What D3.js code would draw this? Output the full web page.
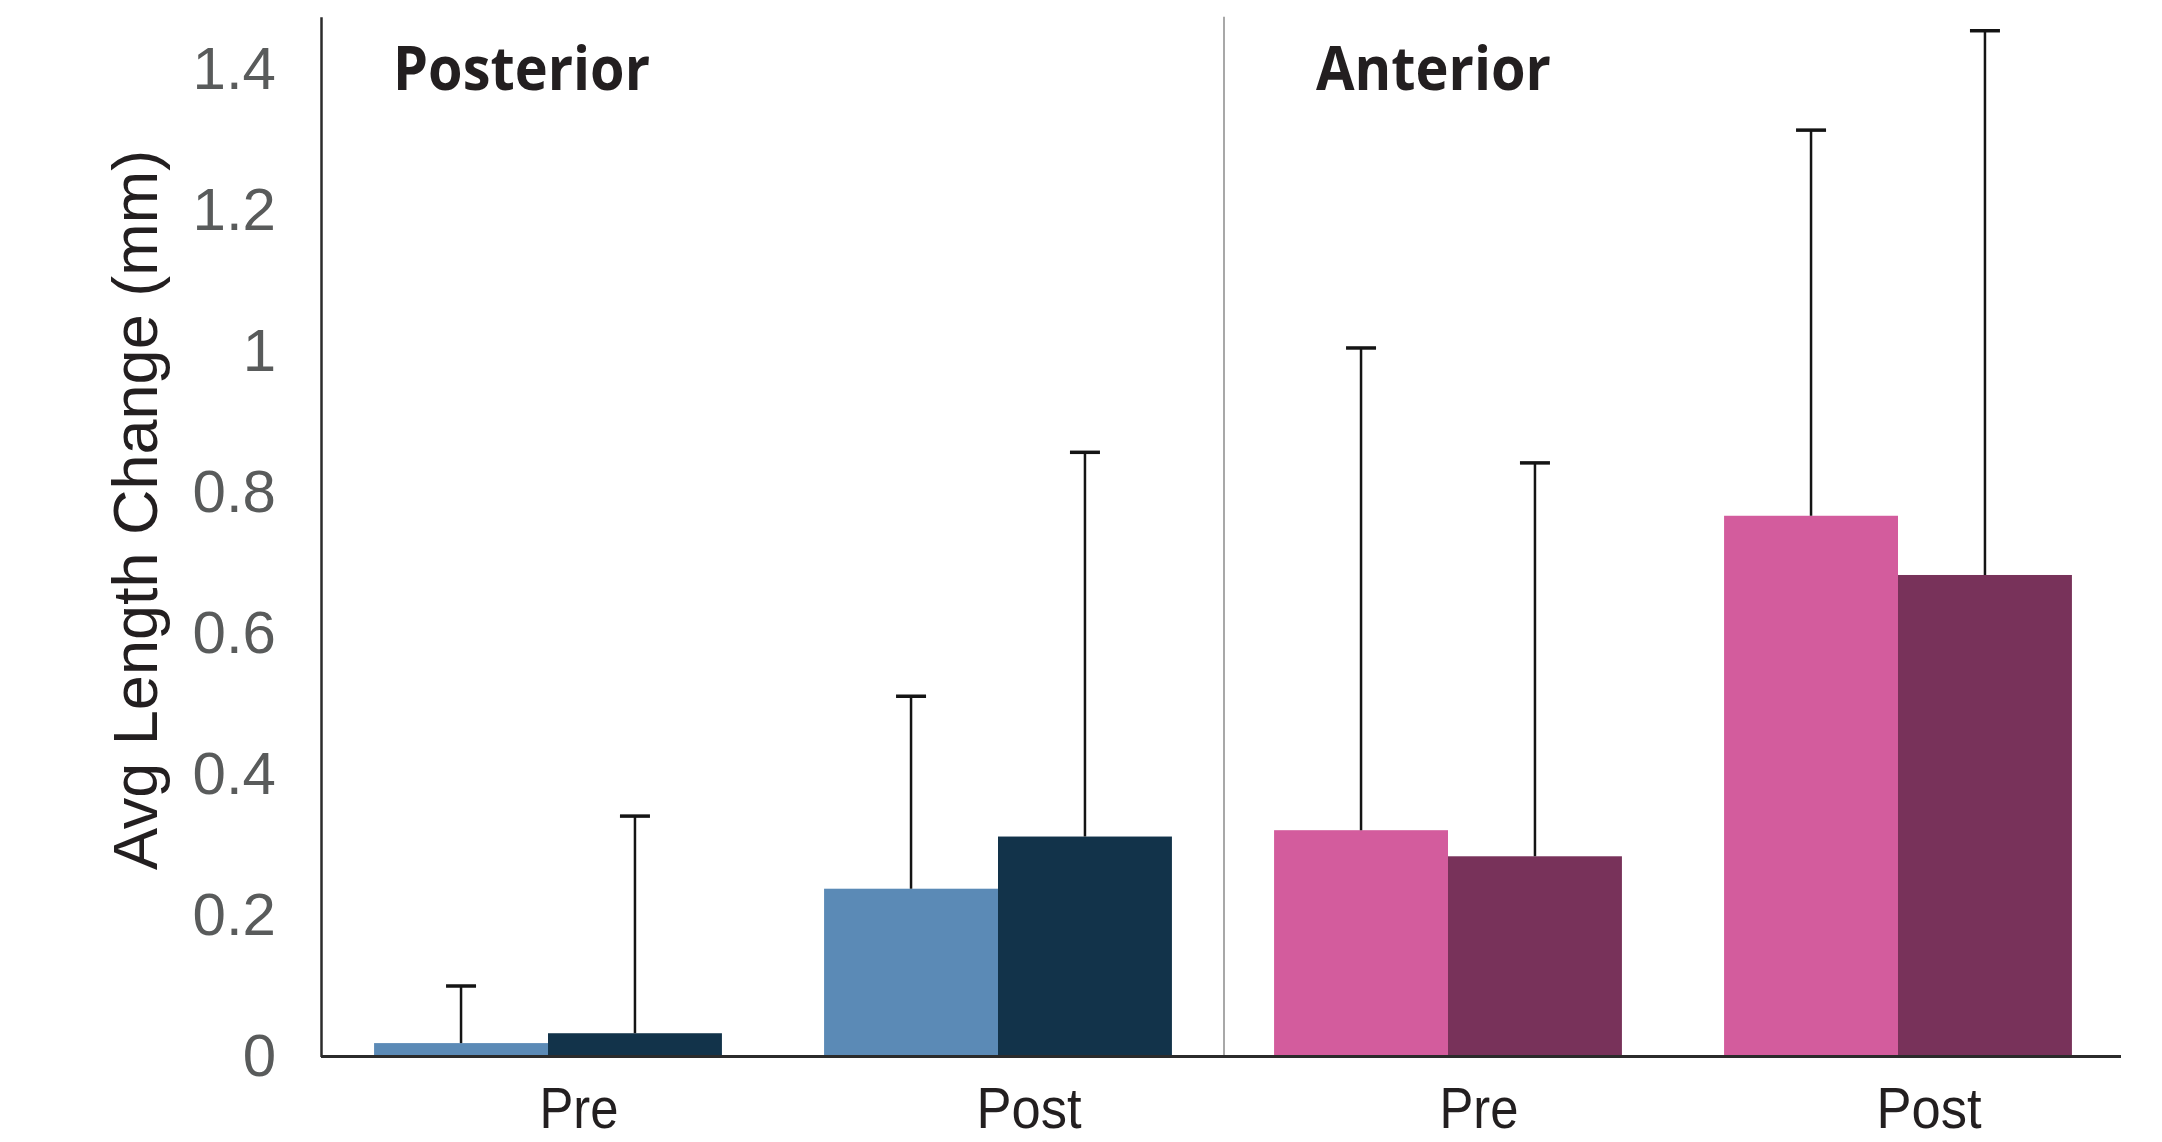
<!DOCTYPE html>
<html>
<head>
<meta charset="utf-8">
<script src="https://cdn.jsdelivr.net/npm/d3@7"></script>
<style>
  html, body { margin: 0; padding: 0; background: #fff; }
  svg { display: block; }
</style>
</head>
<body>
<svg id="chart" width="2162" height="1142"></svg>
<script>
// chart data
var regions = ["Posterior", "Anterior"];
var phases = ["Pre", "Post"];
var groups = ["Posterior Pre", "Posterior Post", "Anterior Pre", "Anterior Post"];
var groupRegion = ["Posterior", "Posterior", "Anterior", "Anterior"];
var groupPhase = ["Pre", "Post", "Pre", "Post"];

// two bars per group: first (lighter) and second (darker)
var meanA = [0.019, 0.238, 0.321, 0.767];
var meanB = [0.033, 0.312, 0.284, 0.683];
var sdA = [0.081, 0.273, 0.684, 0.547];
var sdB = [0.308, 0.545, 0.558, 0.772];

var yTicks = [0, 0.2, 0.4, 0.6, 0.8, 1, 1.2, 1.4];

var colorsA = {Posterior: "#5b8ab6", Anterior: "#d35c9d"};
var colorsB = {Posterior: "#12334a", Anterior: "#78325a"};

// layout
var svg = d3.select("#chart"),
    axisLeft = 321,
    axisRight = 2121,
    baseY = 1056.5;

var x = d3.scaleBand()
    .domain(groups)
    .range([axisLeft + 2, axisRight + 2])
    .paddingInner(0.227)
    .paddingOuter(0.1135);

var xInner = d3.scaleBand()
    .domain([0, 1])
    .range([0, x.bandwidth()]);

var y = d3.scaleLinear()
    .domain([0, 1.475])
    .range([baseY, baseY - 1.475 * 705]);

// build bar records from the arrays
var bars = [];
groups.forEach(function(g, i) {
  bars.push({group: g, k: 0, value: meanA[i], sd: sdA[i], color: colorsA[groupRegion[i]]});
  bars.push({group: g, k: 1, value: meanB[i], sd: sdB[i], color: colorsB[groupRegion[i]]});
});

// region divider
var divX = (x(groups[1]) + x.bandwidth() + x(groups[2])) / 2 + 1;
svg.append("line")
    .attr("x1", divX).attr("x2", divX)
    .attr("y1", y.range()[1]).attr("y2", baseY)
    .attr("stroke", "#a8a8a8")
    .attr("stroke-width", 2);

// bars
svg.append("g")
    .selectAll("rect")
    .data(bars)
    .enter().append("rect")
      .attr("x", function(d) { return x(d.group) + xInner(d.k); })
      .attr("y", function(d) { return y(d.value); })
      .attr("width", xInner.bandwidth())
      .attr("height", function(d) { return baseY - y(d.value); })
      .attr("fill", function(d) { return d.color; });

// error bars (upper only)
var err = svg.append("g")
    .selectAll("g")
    .data(bars)
    .enter().append("g")
      .attr("transform", function(d) {
        return "translate(" + (x(d.group) + xInner(d.k) + xInner.bandwidth() / 2) + ",0)";
      });

err.append("line")
    .attr("x1", 0).attr("x2", 0)
    .attr("y1", function(d) { return y(d.value); })
    .attr("y2", function(d) { return y(d.value + d.sd); })
    .attr("stroke", "#141414")
    .attr("stroke-width", 2.5);

err.append("line")
    .attr("x1", -15).attr("x2", 15)
    .attr("y1", function(d) { return y(d.value + d.sd); })
    .attr("y2", function(d) { return y(d.value + d.sd); })
    .attr("stroke", "#141414")
    .attr("stroke-width", 3.5);

// y axis
var yAxis = svg.append("g")
    .attr("transform", "translate(" + axisLeft + ",0)")
    .call(d3.axisLeft(y)
      .tickValues(yTicks)
      .tickSize(0)
      .tickPadding(45)
      .tickFormat(function(d) { return String(+d.toFixed(1)); }));

yAxis.select(".domain")
    .attr("stroke", "#2b2b2b")
    .attr("stroke-width", 2.5);

yAxis.selectAll("text")
    .attr("font-family", "'Liberation Sans', Arial, sans-serif")
    .attr("font-size", 60)
    .attr("fill", "#595b5b");

// x axis
var xAxis = svg.append("g")
    .attr("transform", "translate(0," + baseY + ")")
    .call(d3.axisBottom(x)
      .tickSize(0)
      .tickFormat(function(d, i) { return groupPhase[i]; }));

xAxis.select(".domain")
    .attr("d", "M" + axisLeft + ",0H" + axisRight)
    .attr("stroke", "#2b2b2b")
    .attr("stroke-width", 3);

xAxis.selectAll("text")
    .attr("font-family", "'Liberation Sans', Arial, sans-serif")
    .attr("font-size", 57)
    .attr("fill", "#231f20")
    .attr("dy", null)
    .attr("y", 71)
    .attr("x", 31)
    .attr("textLength", function(d, i) { return groupPhase[i] === "Pre" ? 79 : 105; })
    .attr("lengthAdjust", "spacingAndGlyphs");

// region titles
var titleWidth = {Posterior: 257, Anterior: 235};
svg.selectAll(".region-title")
    .data(regions)
    .enter().append("text")
      .attr("class", "region-title")
      .attr("x", function(d, i) { return i === 0 ? 393 : 1316; })
      .attr("y", 90)
      .attr("font-family", "'Open Sans', sans-serif")
      .attr("font-weight", "bold")
      .attr("font-size", 60)
      .attr("fill", "#231f20")
      .attr("textLength", function(d) { return titleWidth[d]; })
      .attr("lengthAdjust", "spacingAndGlyphs")
      .text(function(d) { return d; });

// y axis title
svg.append("text")
    .attr("transform", "translate(157,510) rotate(-90)")
    .attr("text-anchor", "middle")
    .attr("font-family", "'Liberation Sans', Arial, sans-serif")
    .attr("font-size", 63)
    .attr("fill", "#231f20")
    .text("Avg Length Change (mm)");
</script>
</body>
</html>
